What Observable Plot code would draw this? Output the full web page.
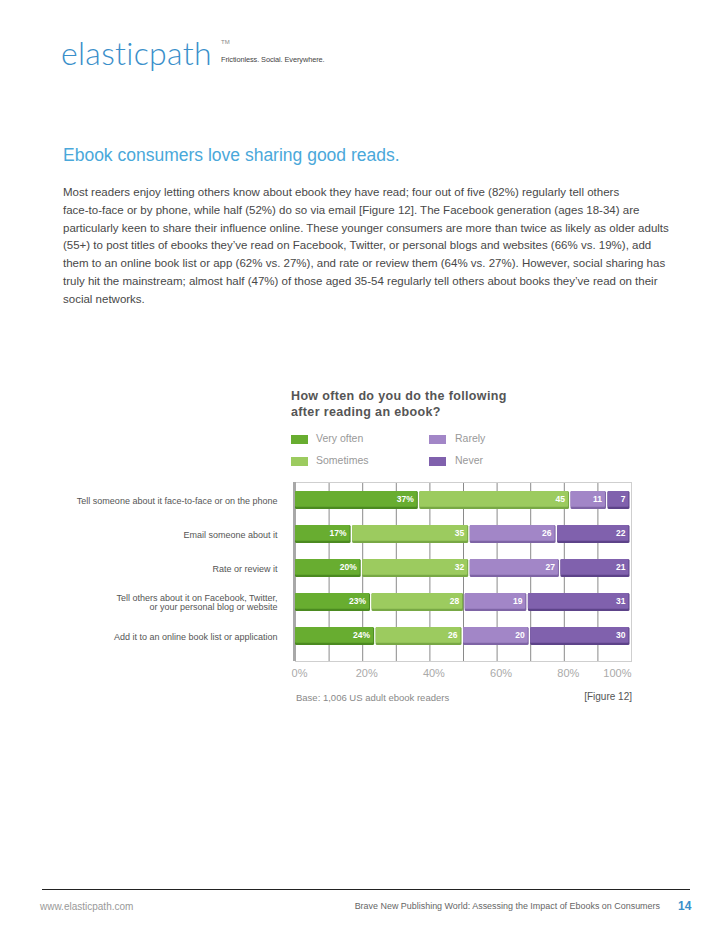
<!DOCTYPE html>
<html>
<head>
<meta charset="utf-8">
<script src="https://cdn.jsdelivr.net/npm/d3@7"></script>
<script src="https://cdn.jsdelivr.net/npm/@observablehq/plot@0.6"></script>
<style>
  html, body { margin: 0; padding: 0; background: #fff; }
  body { width: 728px; height: 943px; position: relative; overflow: hidden; font-family: "Liberation Sans", Arial, sans-serif; }
  .abs { position: absolute; white-space: nowrap; }
  #logo { left: 61px; top: 33px; font-family: "Lato", "Open Sans", sans-serif; font-weight: 300; font-size: 32px; color: #3a8fca; letter-spacing: 0.3px; }
  #tm { left: 221px; top: 39px; font-size: 6px; color: #888; }
  #tagline { left: 221px; top: 55px; font-size: 7.4px; color: #444; letter-spacing: -0.1px; }
  #title { left: 63px; top: 145px; font-size: 17.5px; color: #4aa8da; font-weight: normal; }
  #para { left: 63px; top: 184px; font-size: 11.5px; line-height: 17.8px; color: #484848; }
  #ctitle { left: 291px; top: 388px; font-size: 12.5px; line-height: 16px; color: #555; font-weight: bold; letter-spacing: 0.35px; }
  .sw { position: absolute; width: 17px; height: 9px; }
  .lg { position: absolute; font-size: 10.5px; color: #999; white-space: nowrap; }
  #chart { position: absolute; left: 0; top: 460px; }
  #base { left: 296px; top: 692px; font-size: 9.5px; color: #888; }
  #fig { right: 96px; top: 691px; font-size: 10px; color: #555; }
  #rule { position: absolute; left: 42px; top: 889px; width: 648px; height: 1px; background: #222; }
  #url { left: 40px; top: 901px; font-size: 10px; color: #999; }
  #ftitle { right: 68px; top: 901px; font-size: 8.95px; color: #666; }
  #page { left: 678px; top: 899px; font-size: 12px; color: #3a8fca; font-weight: bold; }
</style>
</head>
<body>
<div class="abs" id="logo">elasticpath</div>
<div class="abs" id="tm">TM</div>
<div class="abs" id="tagline">Frictionless. Social. Everywhere.</div>
<div class="abs" id="title">Ebook consumers love sharing good reads.</div>
<div class="abs" id="para">Most readers enjoy letting others know about ebook they have read; four out of five (82%) regularly tell others<br>face-to-face or by phone, while half (52%) do so via email [Figure 12]. The Facebook generation (ages 18-34) are<br>particularly keen to share their influence online. These younger consumers are more than twice as likely as older adults<br>(55+) to post titles of ebooks they’ve read on Facebook, Twitter, or personal blogs and websites (66% vs. 19%), add<br>them to an online book list or app (62% vs. 27%), and rate or review them (64% vs. 27%). However, social sharing has<br>truly hit the mainstream; almost half (47%) of those aged 35-54 regularly tell others about books they’ve read on their<br>social networks.</div>
<div class="abs" id="ctitle">How often do you do the following<br>after reading an ebook?</div>
<div id="legend"></div>
<div id="chart"></div>
<div class="abs" id="base">Base: 1,006 US adult ebook readers</div>
<div class="abs" id="fig">[Figure 12]</div>
<div id="rule"></div>
<div class="abs" id="url">www.elasticpath.com</div>
<div class="abs" id="ftitle">Brave New Publishing World: Assessing the Impact of Ebooks on Consumers</div>
<div class="abs" id="page">14</div>
<script>
// ---- data ----
const categories = [
  "Tell someone about it face-to-face or on the phone",
  "Email someone about it",
  "Rate or review it",
  "Tell others about it on Facebook, Twitter,\nor your personal blog or website",
  "Add it to an online book list or application"
];
const responses = ["Very often", "Sometimes", "Rarely", "Never"];
const veryOften = [37, 17, 20, 23, 24];
const sometimes = [45, 35, 32, 28, 26];
const rarely    = [11, 26, 27, 19, 20];
const never     = [7, 22, 21, 31, 30];
const xTickLabels = [0, 20, 40, 60, 80, 100];
const gridValues = [0, 10, 20, 30, 40, 50, 60, 70, 80, 90, 100];

const colors  = ["#68ad30", "#9ccb5f", "#a286c7", "#8061ad"];
const shadows = ["#4b8a20", "#78a845", "#7e64a5", "#5d4389"];

const series = [veryOften, sometimes, rarely, never];
const table = [];
responses.forEach((r, i) => {
  categories.forEach((c, j) => {
    table.push({category: c, response: r, value: series[i][j], first: i === 0});
  });
});

// ---- legend ----
const legend = document.getElementById("legend");
const legPos = [[291, 435], [291, 457], [429, 435], [429, 457]];
responses.forEach((r, i) => {
  const sw = document.createElement("div");
  sw.className = "sw";
  sw.style.left = legPos[i][0] + "px";
  sw.style.top = legPos[i][1] + "px";
  sw.style.background = colors[i];
  legend.appendChild(sw);
  const t = document.createElement("div");
  t.className = "lg";
  t.textContent = r;
  t.style.left = (legPos[i][0] + (i < 2 ? 25 : 26)) + "px";
  t.style.top = (legPos[i][1] - 3) + "px";
  legend.appendChild(t);
});

// ---- chart ----
const stackOpts = {offset: "normalize", order: null};
const chart = Plot.plot({
  width: 728,
  height: 240,
  marginLeft: 295,
  marginRight: 97,
  marginTop: 22,
  marginBottom: 39,
  style: {fontFamily: "Liberation Sans, Arial, sans-serif", background: "transparent"},
  x: {domain: [0, 1]},
  y: {domain: categories, range: [22, 193], paddingInner: 0.48, paddingOuter: 0.24},
  color: {domain: responses, range: colors},
  marks: [
    Plot.ruleX(gridValues.map(v => v / 100), {stroke: "#8a8a8a", strokeWidth: 1}),
    Plot.frame({stroke: "#cfcfcf"}),
    Plot.ruleX([0], {stroke: "#a8a8a8", strokeWidth: 3, dx: -1}),
    // shadow (3D bottom edge)
    Plot.barX(table, Plot.stackX({...stackOpts, x: "value", y: "category", z: "response",
      fill: d => shadows[responses.indexOf(d.response)], insetRight: 1.5, rx: 1.5})),
    // main bar face
    Plot.barX(table, Plot.stackX({...stackOpts, x: "value", y: "category", z: "response",
      fill: "response", insetRight: 2.5, insetBottom: 2.2, rx: 1})),
    Plot.text(table, Plot.stackX2({...stackOpts, x: "value", y: "category", z: "response",
      text: d => d.first ? d.value + "%" : String(d.value),
      textAnchor: "end", dx: -6, dy: -1, fill: "white", fontWeight: "bold", fontSize: 8.5})),
    Plot.axisY({tickSize: 0, tickPadding: 18, fontSize: 9, fill: "#555", lineHeight: 1.05, label: null}),
    Plot.axisX(xTickLabels.slice(0, -1).map(v => v / 100), {tickSize: 0, tickPadding: 8, dx: 4,
      tickFormat: d => Math.round(d * 100) + "%", fontSize: 11, fill: "#aaa", label: null}),
    Plot.axisX(xTickLabels.slice(-1).map(v => v / 100), {tickSize: 0, tickPadding: 8, dx: 0, textAnchor: "end",
      tickFormat: d => Math.round(d * 100) + "%", fontSize: 11, fill: "#aaa", label: null})
  ]
});
document.getElementById("chart").appendChild(chart);
</script>
</body>
</html>
